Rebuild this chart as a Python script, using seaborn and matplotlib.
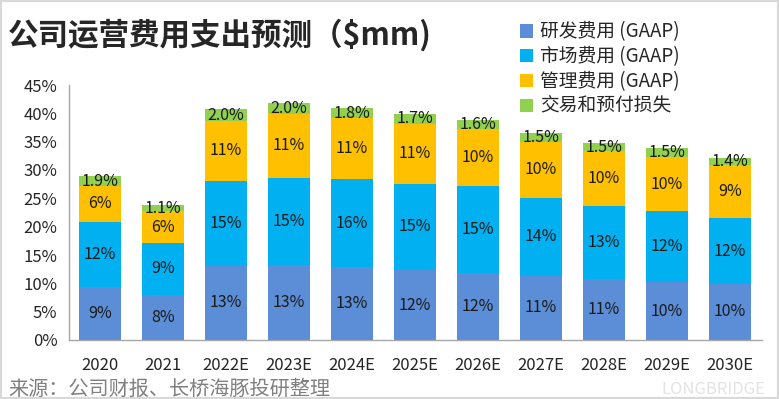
import matplotlib
matplotlib.use('Agg')
import matplotlib.pyplot as plt
from matplotlib.patches import Patch, Rectangle
import seaborn as sns
import numpy as np
import pandas as pd

years = ['2020', '2021', '2022E', '2023E', '2024E', '2025E', '2026E', '2027E', '2028E', '2029E', '2030E']
rd = [9.3, 8.0, 13.1, 13.2, 12.8, 12.3, 11.9, 11.3, 10.7, 10.2, 9.9]       # 研发费用
mkt = [11.6, 9.1, 15.0, 15.4, 15.6, 15.3, 15.2, 13.8, 13.0, 12.5, 11.6]    # 市场费用
adm = [6.2, 5.6, 10.6, 11.3, 10.7, 10.6, 10.1, 9.9, 9.6, 9.6, 9.3]         # 管理费用
loss = [1.9, 1.1, 2.0, 2.0, 1.8, 1.7, 1.6, 1.5, 1.5, 1.5, 1.4]             # 交易和预付损失

names = ['研发费用 (GAAP)', '市场费用 (GAAP)', '管理费用 (GAAP)', '交易和预付损失']
colors = ['#5B8ED6', '#00B0F0', '#FFC000', '#92D050']

sns.set_style('white')
plt.rcParams['font.family'] = ['Noto Sans CJK SC', 'DejaVu Sans']

df = pd.DataFrame({'year': years, 'rd': rd, 'mkt': mkt, 'adm': adm, 'loss': loss})
layers = ['rd', 'mkt', 'adm', 'loss']
cum = df[layers].cumsum(axis=1)

fig = plt.figure(figsize=(7.79, 3.99), dpi=100)
ax = fig.add_axes([68.5 / 779, 59 / 399, 693 / 779, 255 / 399])

# draw tallest (cumulative) first so lower segments sit on top
for key, c in reversed(list(zip(layers, colors))):
    sns.barplot(x=df['year'], y=cum[key], color=c, saturation=1, width=0.667,
                linewidth=0, ax=ax)

for i in range(len(years)):
    base = 0
    for key in layers:
        v = df.loc[i, key]
        txt = f'{v:.1f}%' if key == 'loss' else f'{v:.0f}%'
        ax.text(i, base + v / 2, txt, ha='center', va='center', fontsize=11.5, color='#1a1a1a')
        base += v

ax.set_ylim(0, 45)
ax.set_xlim(-0.5, len(years) - 0.5)
ax.set_yticks(np.arange(0, 46, 5))
ax.set_yticklabels([f'{t}%' for t in range(0, 46, 5)], fontsize=12)
ax.set_xlabel('')
ax.set_ylabel('')
ax.tick_params(axis='x', length=0, labelsize=12, pad=12)
ax.tick_params(axis='y', length=4, color='#A6A6A6', direction='out', pad=4)
ax.set_xticks(np.arange(-0.5, len(years), 1), minor=True)
ax.tick_params(axis='x', which='minor', length=5, color='#A6A6A6', direction='out')
for s in ['top', 'right']:
    ax.spines[s].set_visible(False)
for s in ['left', 'bottom']:
    ax.spines[s].set_color('#A6A6A6')
    ax.spines[s].set_linewidth(1)

fig.text(8 / 779, 1 - 35 / 399, '公司运营费用支出预测（$mm)', fontsize=22, fontweight='bold',
         ha='left', va='center')

handles = [Patch(facecolor=c, edgecolor='none') for c in colors]
fig.legend(handles, names, loc='upper left', bbox_to_anchor=(512 / 779, 1 - 14 / 399),
           frameon=False, fontsize=13.5, handlelength=0.7, handleheight=0.7,
           handletextpad=0.4, labelspacing=0.2, borderaxespad=0)

fig.text(8 / 779, 1 - 389 / 399, '来源：公司财报、长桥海豚投研整理', fontsize=14.5, color='#808080',
         ha='left', va='center')
fig.text(765 / 779, 1 - 390 / 399, 'LONGBRIDGE', fontsize=12, color='#E3E3E3',
         ha='right', va='center')

fig.patches.append(Rectangle((0, 0), 1, 1, transform=fig.transFigure, fill=False,
                             edgecolor='#D9D9D9', linewidth=3))

fig.savefig('out.png', dpi=100)
